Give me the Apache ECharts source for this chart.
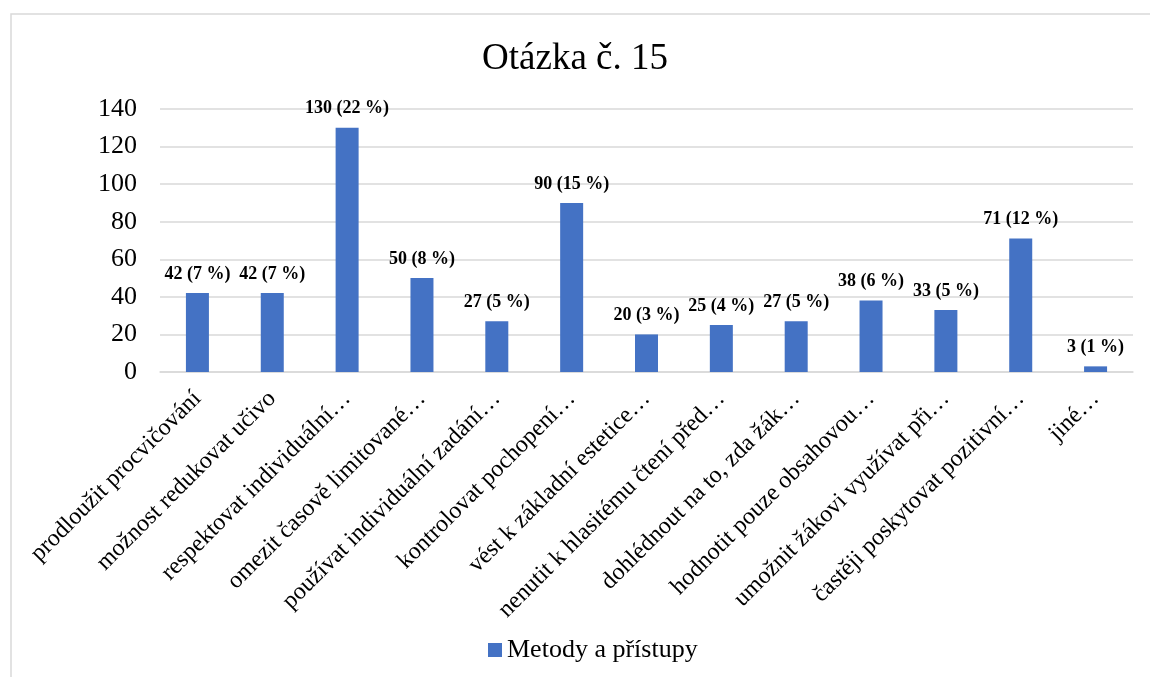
<!DOCTYPE html>
<html>
<head>
<meta charset="utf-8">
<style>
  html, body { margin: 0; padding: 0; background: #fff; }
  #chart { width: 1150px; height: 677px; }
</style>
</head>
<body>
<div id="chart"></div>
<script src="https://cdn.jsdelivr.net/npm/echarts@6/dist/echarts.min.js"></script>
<script>
var categories = [
  'prodloužit procvičování',
  'možnost redukovat učivo',
  'respektovat individuální…',
  'omezit časově limitované…',
  'používat individuální zadání…',
  'kontrolovat pochopení…',
  'vést k základní estetice…',
  'nenutit k hlasitému čtení před…',
  'dohlédnout na to, zda žák…',
  'hodnotit pouze obsahovou…',
  'umožnit žákovi využívat při…',
  'častěji poskytovat pozitivní…',
  'jiné…'
];
var counts = [42, 42, 130, 50, 27, 90, 20, 25, 27, 38, 33, 71, 3];
var percents = [7, 7, 22, 8, 5, 15, 3, 4, 5, 6, 5, 12, 1];
var yTicks = [0, 20, 40, 60, 80, 100, 120, 140];

var serif = '"Liberation Serif", "DejaVu Serif", serif';
var myChart = echarts.init(document.getElementById('chart'));

var option = {
  backgroundColor: '#fff',
  animation: false,
  graphic: [{
    type: 'rect',
    shape: { x: 11, y: 14, width: 1200, height: 700 },
    style: { fill: 'none', stroke: '#d9d9d9', lineWidth: 1.5 },
    silent: true
  }],
  title: {
    text: 'Otázka č. 15',
    left: 'center',
    top: 36,
    textStyle: { fontFamily: serif, fontSize: 37, fontWeight: 'normal', color: '#000' }
  },
  legend: {
    top: 632,
    left: 483,
    itemWidth: 14,
    itemHeight: 14,
    icon: 'rect',
    itemGap: 6,
    textStyle: { fontFamily: serif, fontSize: 26, color: '#000', padding: [0, 0, 0, 0] },
    data: ['Metody a přístupy']
  },
  grid: { left: 160, right: 17, top: 109, bottom: 305, containLabel: false },
  xAxis: {
    type: 'category',
    data: categories,
    axisLine: { lineStyle: { color: '#d9d9d9', width: 1.5 } },
    axisTick: { show: false },
    axisLabel: {
      interval: 0,
      rotate: 45,
      margin: 23,
      fontFamily: serif,
      fontSize: 24,
      color: '#000'
    }
  },
  yAxis: {
    type: 'value',
    min: yTicks[0],
    max: yTicks[yTicks.length - 1],
    interval: 20,
    axisLine: { show: false },
    axisTick: { show: false },
    splitLine: { lineStyle: { color: '#d9d9d9', width: 1.5 } },
    axisLabel: { fontFamily: serif, fontSize: 26, color: '#000', margin: 23 }
  },
  series: [{
    name: 'Metody a přístupy',
    type: 'bar',
    barWidth: 23,
    itemStyle: { color: '#4472c4' },
    data: counts,
    label: {
      show: true,
      position: 'top',
      distance: 10,
      fontFamily: serif,
      fontSize: 18,
      fontWeight: 'bold',
      color: '#000',
      formatter: function (p) {
        return p.value + ' (' + percents[p.dataIndex] + ' %)';
      }
    }
  }]
};

myChart.setOption(option);
</script>
</body>
</html>
